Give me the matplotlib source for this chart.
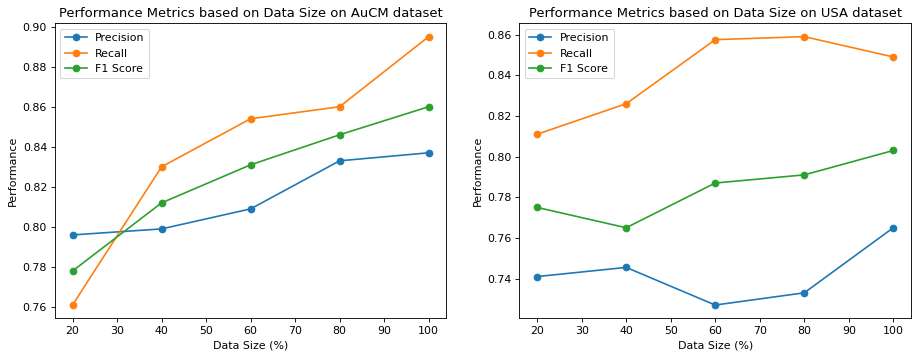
import numpy as np
import matplotlib.pyplot as plt

data_size = [20, 40, 60, 80, 100]

# AuCM dataset
aucm_precision = [0.796, 0.799, 0.809, 0.833, 0.837]
aucm_recall = [0.761, 0.830, 0.854, 0.860, 0.895]
aucm_f1 = [0.778, 0.812, 0.831, 0.846, 0.860]

# USA dataset
usa_precision = [0.741, 0.7455, 0.727, 0.733, 0.765]
usa_recall = [0.811, 0.826, 0.8575, 0.859, 0.849]
usa_f1 = [0.775, 0.765, 0.787, 0.791, 0.803]

fig, axes = plt.subplots(1, 2, figsize=(912 / 79, 357 / 79), dpi=79)
fig.subplots_adjust(left=0.060, right=0.999, top=0.935, bottom=0.108, wspace=0.186)

panels = [
    (axes[0], aucm_precision, aucm_recall, aucm_f1, 'AuCM'),
    (axes[1], usa_precision, usa_recall, usa_f1, 'USA'),
]
for ax, p, r, f, name in panels:
    ax.plot(data_size, p, marker='o', label='Precision')
    ax.plot(data_size, r, marker='o', label='Recall')
    ax.plot(data_size, f, marker='o', label='F1 Score')
    ax.set_title('Performance Metrics based on Data Size on ' + name + ' dataset')
    ax.set_xlabel('Data Size (%)')
    ax.set_ylabel('Performance')
    ax.legend(loc='upper left')

fig.savefig('out.png', dpi=79)
